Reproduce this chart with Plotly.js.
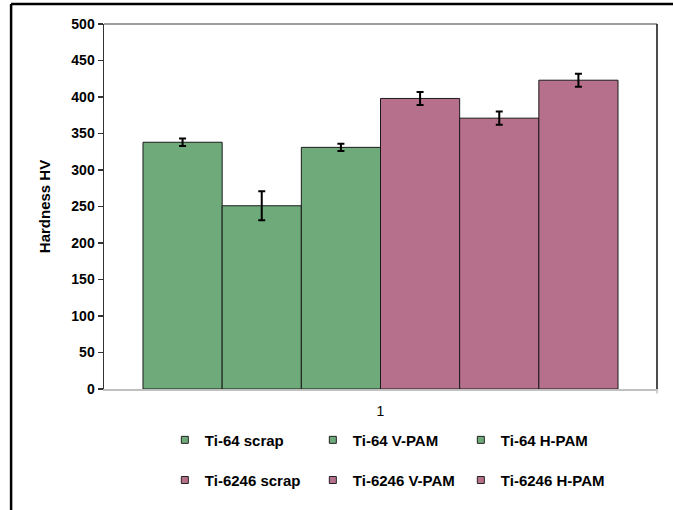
<!DOCTYPE html>
<html>
<head>
<meta charset="utf-8">
<script src="https://cdn.plot.ly/plotly-3.0.1.min.js"></script>
<style>
  html, body { margin: 0; padding: 0; background: #fff; }
  #chart { width: 673px; height: 510px; }
</style>
</head>
<body>
<div id="chart"></div>
<script>
// ---- data ----
const categories = ['1'];
const seriesNames = ['Ti-64 scrap', 'Ti-64 V-PAM', 'Ti-64 H-PAM', 'Ti-6246 scrap', 'Ti-6246 V-PAM', 'Ti-6246 H-PAM'];
const hardness = [338, 251, 331, 398, 371, 423];
const hardnessErr = [5, 20, 5, 9, 9, 9];
const yTickVals = [0, 50, 100, 150, 200, 250, 300, 350, 400, 450, 500];

// ---- styles ----
const green = '#6FAB7A';
const pink = '#B7708B';
const seriesColors = [green, green, green, pink, pink, pink];
const seriesLegend = ['legend', 'legend', 'legend', 'legend2', 'legend2', 'legend2'];

const barTraces = seriesNames.map((name, i) => ({
  type: 'bar',
  name: name,
  x: categories,
  y: [hardness[i]],
  showlegend: false,
  marker: { color: seriesColors[i], line: { color: '#1a1a1a', width: 1 } },
  error_y: { type: 'data', array: [hardnessErr[i]], visible: true, color: '#000', thickness: 2, width: 3.5 },
  hoverinfo: 'none'
}));

// legend entries with small square keys (as in the original)
const legendTraces = seriesNames.map((name, i) => ({
  type: 'scatter', mode: 'markers',
  name: name,
  x: [null], y: [null],
  legend: seriesLegend[i],
  marker: { symbol: 'square', size: 7, color: seriesColors[i], line: { color: '#222', width: 1 } },
  hoverinfo: 'none'
}));

const fam = '"Liberation Sans", Arial, sans-serif';

const legendCommon = {
  orientation: 'h', xanchor: 'left', yanchor: 'middle',
  entrywidth: 103, entrywidthmode: 'pixels', itemwidth: 30,
  font: { family: fam, size: 15, color: '#000', weight: 'bold' },
  bgcolor: 'rgba(0,0,0,0)'
};

const layout = {
  width: 673, height: 510,
  margin: { l: 104, r: 16, t: 24, b: 121 },
  paper_bgcolor: '#fff', plot_bgcolor: '#fff',
  barmode: 'group', bargap: 0.141, bargroupgap: 0,
  font: { family: fam, color: '#000' },
  showlegend: true,
  xaxis: {
    type: 'category', range: [-0.5, 0.5],
    showline: true, linecolor: '#c0c0c0', linewidth: 1.5,
    ticks: '', showgrid: false, zeroline: false,
    tickfont: { family: fam, size: 14, color: '#000' },
    ticklabelstandoff: 9
  },
  yaxis: {
    range: [0, 500], tickvals: yTickVals, ticktext: yTickVals.map(String),
    showline: true, linecolor: '#333', linewidth: 1.5,
    ticks: 'outside', ticklen: 5, tickcolor: '#333', tickwidth: 1.5,
    showgrid: false, zeroline: false,
    tickfont: { family: fam, size: 14, color: '#000', weight: 'bold' },
    title: { text: '<b>Hardness HV</b>', font: { family: fam, size: 15, color: '#000' }, standoff: 17 }
  },
  legend: Object.assign({}, legendCommon, { x: 0.11, y: -0.14 }),
  legend2: Object.assign({}, legendCommon, { x: 0.11, y: -0.25 }),
  shapes: [
    { type: 'line', xref: 'paper', yref: 'paper', x0: 0, x1: 1, y0: 1, y1: 1, line: { color: '#7f7f7f', width: 1.5 } },
    { type: 'line', xref: 'paper', yref: 'paper', x0: 1, x1: 1, y0: 0, y1: 1, line: { color: '#111', width: 1.5 } },
    { type: 'line', xref: 'paper', yref: 'paper', x0: 1, x1: 1, y0: 0, y1: -0.012, line: { color: '#c0c0c0', width: 1.5 } },
    { type: 'line', xref: 'paper', yref: 'paper', x0: -0.168, x1: 1.2, y0: 1.0548, y1: 1.0548, line: { color: '#000', width: 2.5 } },
    { type: 'line', xref: 'paper', yref: 'paper', x0: -0.168, x1: -0.168, y0: 1.0548, y1: -0.4, line: { color: '#000', width: 2.5 } }
  ]
};

Plotly.newPlot('chart', barTraces.concat(legendTraces), layout, { staticPlot: true, displayModeBar: false });
</script>
</body>
</html>
